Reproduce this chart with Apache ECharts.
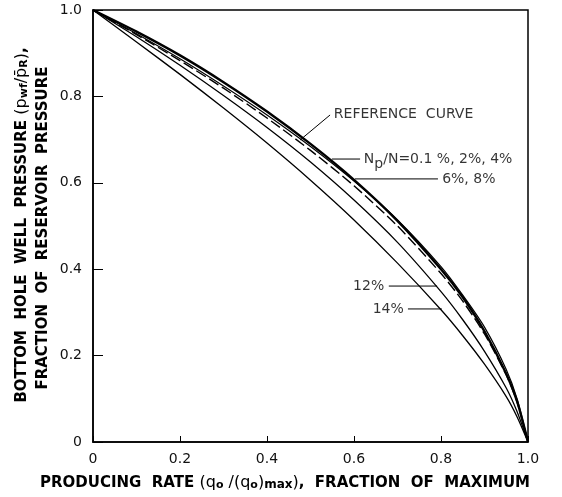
<!DOCTYPE html>
<html>
<head>
<meta charset="utf-8">
<script src="https://cdn.jsdelivr.net/npm/echarts@6/dist/echarts.min.js"></script>
<style>html,body{margin:0;padding:0;background:#fff;}#c{width:562px;height:497px;}</style>
</head>
<body>
<div id="c"></div>
<script>
// producing rate q/qmax (x) grid
const qGrid = [0, 0.1, 0.2, 0.3, 0.4, 0.5, 0.6, 0.7, 0.8, 0.85, 0.9, 0.95, 0.975, 1.0];
// pwf/pR
const pLow = [1, 0.950, 0.895, 0.833, 0.765, 0.690, 0.607, 0.512, 0.400, 0.335, 0.256, 0.158, 0.094, 0];   // Np/N = 0.1%, 2%, 4%
const pRef = [1, 0.943, 0.883, 0.819, 0.750, 0.675, 0.593, 0.500, 0.390, 0.326, 0.250, 0.155, 0.092, 0];   // reference curve
const pMid = [1, 0.945, 0.887, 0.824, 0.757, 0.684, 0.604, 0.514, 0.406, 0.340, 0.266, 0.168, 0.100, 0];   // 6%, 8%
const p12 = [1, 0.938, 0.872, 0.802, 0.728, 0.648, 0.560, 0.462, 0.348, 0.283, 0.210, 0.125, 0.070, 0];    // 12%
const p14 = [1, 0.926, 0.851, 0.773, 0.692, 0.606, 0.514, 0.414, 0.306, 0.246, 0.180, 0.105, 0.058, 0];    // 14%
const xTicks = [0, 0.2, 0.4, 0.6, 0.8, 1.0];
const yTicks = [0, 0.2, 0.4, 0.6, 0.8, 1.0];
// annotation leader lines and label anchors (data coordinates)
const refLeader = [[0.476, 0.699], [0.545, 0.757]];
const lowLeader = [[0.549, 0.655], [0.614, 0.655]];
const midLeader = [[0.602, 0.609], [0.793, 0.609]];
const leader12 = [[0.680, 0.361], [0.791, 0.361]];
const leader14 = [[0.724, 0.308], [0.802, 0.308]];
const labelsRight = [
  {value: [0.549, 0.759], text: 'REFERENCE  CURVE'},
  {value: [0.618, 0.655], text: '{n|N}{s|p}{n|/N=0.1 %, 2%, 4%}'},
  {value: [0.798, 0.609], text: '6%, 8%'}
];
const labelsLeft = [
  {value: [0.674, 0.361], text: '12%'},
  {value: [0.719, 0.308], text: '14%'}
];

function pairs(ps) { return qGrid.map((q, i) => [q, ps[i]]); }
const fmt = v => (v === 0 ? '0' : (v === 1 ? '1.0' : v.toFixed(1)));
const lineFont = 'DejaVu Sans';

function curve(ps, width, dashed) {
  return {
    type: 'line', data: pairs(ps), smooth: 0.25,
    symbol: 'none', silent: true, z: 3,
    lineStyle: {color: '#000', width: width, type: dashed ? [11, 4] : 'solid'}
  };
}
function leader(pts) {
  return {type: 'line', data: pts, symbol: 'none', silent: true, z: 2,
          lineStyle: {color: '#000', width: 1}};
}
const richText = {
  n: {fontFamily: lineFont, fontSize: 14, color: '#000'},
  s: {fontFamily: lineFont, fontSize: 14, color: '#000', verticalAlign: 'bottom', padding: [10, 0, 0, 0]}
};

const chart = echarts.init(document.getElementById('c'), null, {renderer: 'canvas'});
chart.setOption({
  animation: false,
  backgroundColor: '#fff',
  grid: {left: 93, top: 10, width: 435, height: 432, show: true, borderColor: '#000', borderWidth: 1.5, backgroundColor: 'transparent'},
  xAxis: {
    type: 'value', min: 0, max: 1, interval: 0.2,
    axisLine: {show: true, lineStyle: {color: '#000', width: 1.5}},
    axisTick: {show: true, inside: true, length: 6, lineStyle: {color: '#000', width: 1}},
    splitLine: {show: false},
    axisLabel: {formatter: fmt, margin: 10, fontFamily: lineFont, fontSize: 14, color: '#111'}
  },
  yAxis: {
    type: 'value', min: 0, max: 1, interval: 0.2,
    axisLine: {show: true, lineStyle: {color: '#000', width: 1.5}},
    axisTick: {show: true, inside: true, length: 10, lineStyle: {color: '#000', width: 1}},
    splitLine: {show: false},
    axisLabel: {formatter: fmt, margin: 11, fontFamily: lineFont, fontSize: 14, color: '#111'}
  },
  series: [
    curve(p14, 1.3, false),
    curve(p12, 1.3, false),
    curve(pMid, 1.2, false),
    curve(pRef, 1.4, true),
    curve(pLow, 2.4, false),
    leader(refLeader), leader(lowLeader), leader(midLeader), leader(leader12), leader(leader14),
    {
      type: 'scatter', symbolSize: 0, silent: true, z: 4,
      data: labelsRight.map(d => ({value: d.value, t: d.text})),
      label: {show: true, position: 'right', distance: 2, formatter: p => p.data.t,
              fontFamily: lineFont, fontSize: 14, color: '#000', rich: richText}
    },
    {
      type: 'scatter', symbolSize: 0, silent: true, z: 4,
      data: labelsLeft.map(d => ({value: d.value, t: d.text})),
      label: {show: true, position: 'left', distance: 2, formatter: p => p.data.t,
              fontFamily: lineFont, fontSize: 14, color: '#000'}
    }
  ],
  graphic: [
    {
      type: 'text', x: 285, y: 483, silent: true,
      style: {
        text: '{b|PRODUCING  RATE }{p|(q}{ps|o}{p| /(q}{ps|o}{p|)}{m|max}{p|)}{b|,  FRACTION  OF  MAXIMUM}',
        textAlign: 'center', textVerticalAlign: 'middle',
        rich: {
          b: {fontFamily: lineFont, fontWeight: 'bold', fontSize: 15, fill: '#000'},
          p: {fontFamily: lineFont, fontSize: 16, fill: '#000'},
          ps: {fontFamily: lineFont, fontWeight: 'bold', fontSize: 11, fill: '#000', verticalAlign: 'bottom'},
          m: {fontFamily: lineFont, fontWeight: 'bold', fontSize: 12, fill: '#000', verticalAlign: 'bottom'}
        }
      }
    },
    {
      type: 'text', x: 22, y: 225, rotation: Math.PI / 2, silent: true,
      style: {
        text: '{b|BOTTOM  HOLE  WELL  PRESSURE }{p|(p}{ps|wf}{p|/p\u0304}{ps|R}{p|)}{b|,}',
        textAlign: 'center', textVerticalAlign: 'middle',
        rich: {
          b: {fontFamily: lineFont, fontWeight: 'bold', fontSize: 15, fill: '#000'},
          p: {fontFamily: lineFont, fontSize: 16, fill: '#000'},
          ps: {fontFamily: lineFont, fontWeight: 'bold', fontSize: 11, fill: '#000', verticalAlign: 'bottom'}
        }
      }
    },
    {
      type: 'text', x: 43, y: 228, rotation: Math.PI / 2, silent: true,
      style: {
        text: 'FRACTION  OF  RESERVOIR  PRESSURE',
        textAlign: 'center', textVerticalAlign: 'middle',
        fontFamily: lineFont, fontWeight: 'bold', fontSize: 15, fill: '#000'
      }
    }
  ]
});
</script>
</body>
</html>
